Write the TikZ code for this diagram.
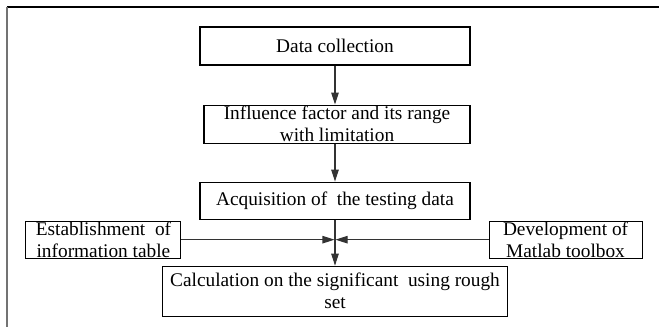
\documentclass[tikz,border=0pt]{standalone}
\usepackage{fontspec}
\setmainfont{Liberation Serif}
\usepackage{tikz}
\usetikzlibrary{arrows.meta, positioning}
\tikzstyle{process} = [rectangle, minimum width=5.4cm, minimum height=0.76cm, inner sep=0pt, align=center, draw=black, line width=0.6pt, font=\fontsize{11}{12.5}\selectfont]
\tikzstyle{arrow} = [line width=0.6pt, draw=black!80, -{Triangle[length=0.24cm, width=0.15cm]}]

\begin{document}
\begin{tikzpicture}

\useasboundingbox (0,0) rectangle (13.18,-6.54);
\draw[line width=1.2pt] (0.14,-0.14) -- (13.18,-0.14);
\draw[line width=1.4pt, black!55] (0.14,-0.14) -- (0.14,-6.54);

\node (data) [process] at (6.70,-0.92) {Data collection};
\node (infl) [process, minimum width=5.32cm, below=0.78cm of data, xshift=0.04cm] {Influence factor and its range\\with limitation};
\node (acq) [process, minimum height=0.74cm, below=0.76cm of infl, xshift=-0.04cm] {Acquisition of\ \ the testing data};
\node (estab) [process, minimum width=3.1cm, minimum height=0.74cm, below left=0.02cm and 0.36cm of acq.south west] {Establishment\ \ of\\information table};
\node (dev) [process, minimum width=3.06cm, minimum height=0.74cm, below right=0.02cm and 0.36cm of acq.south east] {Development of\\Matlab toolbox};
\node (calc) [process, minimum width=6.9cm, minimum height=1.0cm, below=0.92cm of acq] {Calculation on the significant\ \ using rough\\set};

\draw [arrow] (data) -- (infl.north -| data);
\draw [arrow] (infl.south -| data) -- (acq);
\draw [arrow] (acq) -- (calc);
\draw [arrow, shorten >=0.3pt] (estab) -- (estab -| acq);
\draw [arrow, shorten >=0.3pt] (dev) -- (dev -| acq);

\end{tikzpicture}
\end{document}
